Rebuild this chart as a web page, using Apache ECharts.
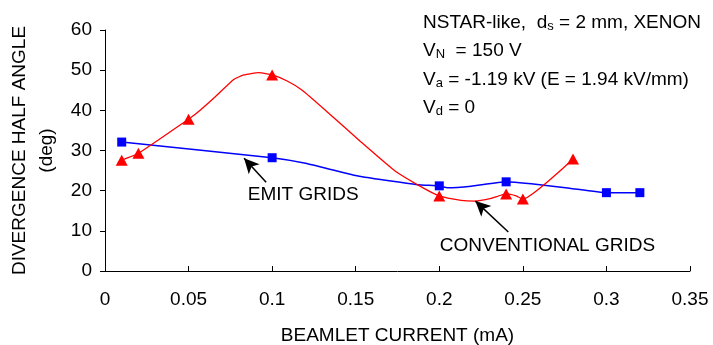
<!DOCTYPE html>
<html>
<head>
<meta charset="utf-8">
<script src="https://cdn.jsdelivr.net/npm/echarts@6/dist/echarts.min.js"></script>
<style>
  html, body { margin: 0; padding: 0; background: #fff; }
  #chart { width: 713px; height: 345px; }
</style>
</head>
<body>
<div id="chart"></div>
<script>
// measured points: beamlet current (mA) vs divergence half angle (deg)
var emitX = [0.01, 0.1, 0.2, 0.24, 0.3, 0.32];
var emitY = [32.1, 28.2, 21.2, 22.2, 19.5, 19.5];
var convX = [0.01, 0.02, 0.05, 0.1, 0.2, 0.24, 0.25, 0.28];
var convY = [27.6, 29.3, 37.8, 48.8, 18.7, 19.2, 17.9, 27.9];

// the drawn (smoothed) curves
var emitCurveX = [0.01, 0.1, 0.12, 0.153, 0.187, 0.2, 0.205, 0.219, 0.24, 0.255, 0.278, 0.3, 0.32];
var emitCurveY = [32.1, 28.2, 26.8, 23.5, 21.5, 21.2, 20.7, 21.1, 22.2, 21.7, 20.6, 19.5, 19.5];
var convCurveX = [0.01, 0.02, 0.05, 0.054, 0.066, 0.077, 0.083, 0.092, 0.1, 0.109, 0.118, 0.133,
                  0.153, 0.173, 0.189, 0.2, 0.213, 0.221, 0.231, 0.24, 0.246, 0.25, 0.28];
var convCurveY = [27.6, 29.3, 37.8, 39.0, 43.4, 47.7, 48.8, 49.4, 48.8, 47.3, 45.0, 39.6,
                  32.2, 25.1, 21.0, 18.7, 17.6, 17.4, 18.1, 19.2, 18.7, 17.9, 27.9];

// annotation arrows: [tail, tip], and label anchors
var emitArrow = [[0.0964, 22.1], [0.0832, 28.1]];
var convArrow = [[0.2413, 9.7], [0.2216, 17.4]];
var emitLabelAt = [0.1186, 18.9];
var convLabelAt = [0.2647, 6.2];

var FONT = '"Liberation Sans", Arial, sans-serif';

function pairs(xs, ys) {
  var out = [];
  for (var i = 0; i < xs.length; i++) out.push([xs[i], ys[i]]);
  return out;
}

function arrow(line) {
  return {
    silent: true,
    symbol: ['none', 'arrow'],
    symbolSize: [11, 15],
    label: { show: false },
    lineStyle: { color: '#000', width: 1.5, type: 'solid' },
    data: [[{ coord: line[0] }, { coord: line[1] }]]
  };
}

function tag(text, at) {
  return {
    silent: true,
    symbol: 'circle',
    symbolSize: 0,
    label: { show: true, position: 'inside', color: '#000', fontSize: 19, fontFamily: FONT, formatter: text },
    data: [{ coord: at }]
  };
}

var chart = echarts.init(document.getElementById('chart'));

var option = {
  animation: false,
  backgroundColor: '#fff',
  textStyle: { fontFamily: FONT },
  grid: { left: 105, top: 30, right: 23, bottom: 74, outerBoundsMode: 'none', containLabel: false },
  xAxis: {
    type: 'value',
    min: 0, max: 0.35, interval: 0.05,
    name: 'BEAMLET CURRENT (mA)',
    nameLocation: 'middle',
    nameGap: 55,
    nameTextStyle: { color: '#000', fontSize: 19, fontFamily: FONT },
    axisLine: { lineStyle: { color: '#000', width: 1 } },
    axisTick: { inside: true, length: 5, lineStyle: { color: '#000' } },
    axisLabel: { color: '#000', fontSize: 19, margin: 19, fontFamily: FONT },
    splitLine: { show: false }
  },
  yAxis: {
    type: 'value',
    min: 0, max: 60, interval: 10,
    name: 'DIVERGENCE HALF ANGLE\n(deg)',
    nameLocation: 'middle',
    nameRotate: 90,
    nameGap: 40,
    nameTextStyle: { color: '#000', fontSize: 19, lineHeight: 27, fontFamily: FONT },
    axisLine: { show: true, lineStyle: { color: '#000', width: 1 } },
    axisTick: { show: true, length: 5, lineStyle: { color: '#000' } },
    axisLabel: { color: '#000', fontSize: 19, margin: 13, fontFamily: FONT },
    splitLine: { show: false }
  },
  graphic: [{
    type: 'text',
    left: 423,
    top: 12,
    style: {
      rich: {
        n: { fontSize: 19, lineHeight: 28.4, fontFamily: FONT, fill: '#000' },
        s: { fontSize: 13, lineHeight: 28.4, fontFamily: FONT, fill: '#000', padding: [8, 0, 0, 0] }
      },
      text: '{n|NSTAR-like,  d}{s|s}{n| = 2 mm, XENON}\n' +
            '{n|V}{s|N}{n|  = 150 V}\n' +
            '{n|V}{s|a}{n| = -1.19 kV (E = 1.94 kV/mm)}\n' +
            '{n|V}{s|d}{n| = 0}'
    }
  }],
  series: [{
    name: 'EMIT GRIDS curve',
    type: 'line',
    data: pairs(emitCurveX, emitCurveY),
    smooth: 0.15,
    showSymbol: false,
    lineStyle: { color: '#0000ff', width: 1.5 },
    z: 2,
    markLine: arrow(emitArrow),
    markPoint: tag('EMIT GRIDS', emitLabelAt)
  }, {
    name: 'CONVENTIONAL GRIDS curve',
    type: 'line',
    data: pairs(convCurveX, convCurveY),
    smooth: 0.15,
    showSymbol: false,
    lineStyle: { color: '#ff0000', width: 1.3 },
    z: 2,
    markLine: arrow(convArrow),
    markPoint: tag('CONVENTIONAL GRIDS', convLabelAt)
  }, {
    name: 'EMIT GRIDS',
    type: 'scatter',
    data: pairs(emitX, emitY),
    symbol: 'rect',
    symbolSize: 9,
    itemStyle: { color: '#0000ff', opacity: 1 },
    z: 4
  }, {
    name: 'CONVENTIONAL GRIDS',
    type: 'scatter',
    data: pairs(convX, convY),
    symbol: 'triangle',
    symbolSize: [12, 11],
    itemStyle: { color: '#ff0000', opacity: 1 },
    z: 3
  }]
};

chart.setOption(option);
</script>
</body>
</html>
